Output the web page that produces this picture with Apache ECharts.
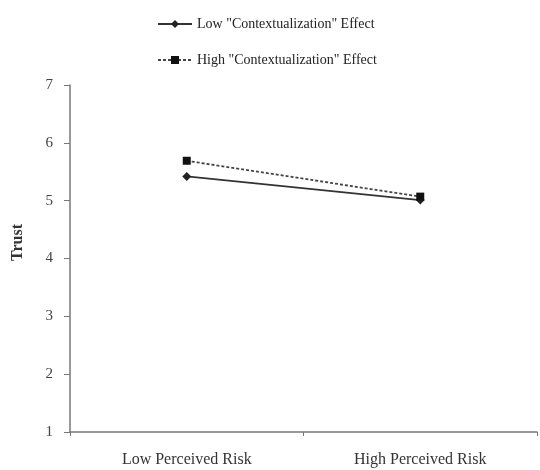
<!DOCTYPE html>
<html><head><meta charset="utf-8">
<script src="https://cdn.jsdelivr.net/npm/echarts@6/dist/echarts.min.js"></script>
<style>html,body{margin:0;padding:0;background:#fff}#c{width:540px;height:470px}</style>
</head><body><div id="c"></div>
<script>
var categories = ['Low Perceived Risk', 'High Perceived Risk'];
var lowContext = [5.42, 5.01];
var highContext = [5.69, 5.07];
var yTicks = [1, 7, 1];
var yTitle = 'Trust';

var chart = echarts.init(document.getElementById('c'), null, {renderer: 'canvas'});
var font = 'Liberation Serif';
chart.setOption({
  animation: false,
  backgroundColor: '#fff',
  textStyle: {fontFamily: font},
  legend: {
    orient: 'vertical',
    left: 152, top: 12,
    itemGap: 22,
    itemWidth: 34, itemHeight: 10,
    textStyle: {fontFamily: font, fontSize: 14, color: '#222'},
    data: ['Low "Contextualization" Effect', 'High "Contextualization" Effect']
  },
  graphic: [{
    type: 'text', left: 10, top: 224, rotation: Math.PI / 2,
    style: {text: yTitle, fontFamily: font, fontSize: 16, fontWeight: 'bold', fill: '#333'}
  }],
  grid: {left: 70, right: 3, top: 85, bottom: 38},
  xAxis: {
    type: 'category', data: categories, boundaryGap: true,
    axisLine: {lineStyle: {color: '#777', width: 1.5}},
    axisTick: {show: true, length: 4, lineStyle: {color: '#777'}},
    axisLabel: {fontFamily: font, fontSize: 16, color: '#333', margin: 20}
  },
  yAxis: {
    type: 'value', min: yTicks[0], max: yTicks[1], interval: yTicks[2],
    axisLine: {show: true, lineStyle: {color: '#777', width: 1.5}},
    axisTick: {show: true, length: 6, lineStyle: {color: '#777'}},
    splitLine: {show: false},
    axisLabel: {fontFamily: font, fontSize: 15, color: '#444', margin: 17}
  },
  series: [
    {name: 'Low "Contextualization" Effect', type: 'line', data: lowContext,
     symbol: 'diamond', symbolSize: 9, itemStyle: {color: '#222'},
     lineStyle: {color: '#333', width: 1.8, type: 'solid'}},
    {name: 'High "Contextualization" Effect', type: 'line', data: highContext,
     symbol: 'rect', symbolSize: 8, itemStyle: {color: '#111'},
     lineStyle: {color: '#444', width: 1.8, type: [3, 2]}}
  ]
});
</script></body></html>
